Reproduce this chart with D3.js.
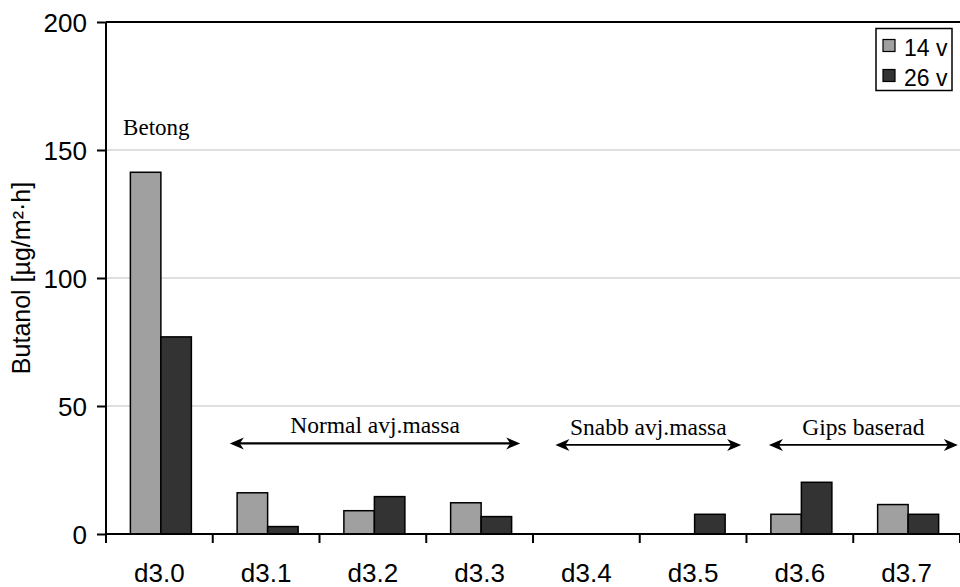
<!DOCTYPE html>
<html>
<head>
<meta charset="utf-8">
<script src="https://cdn.jsdelivr.net/npm/d3@7"></script>
<style>
  html, body { margin: 0; padding: 0; background: #fff; }
  svg { display: block; }
</style>
</head>
<body>
<svg id="chart" width="960" height="587"></svg>
<script>
// ---- data ----
const categories = ["d3.0", "d3.1", "d3.2", "d3.3", "d3.4", "d3.5", "d3.6", "d3.7"];
const seriesNames = ["14 v", "26 v"];
const values14 = [141.3, 16.1, 9.1, 12.2, null, null, 7.7, 11.5];
const values26 = [77.0, 2.9, 14.6, 6.8, null, 7.7, 20.2, 7.7];
const yTicks = [0, 50, 100, 150, 200];
const yLabel = "Butanol [µg/m²·h]";
// group annotations: label, span in category units, value level
const groupLabels = ["Normal avj.massa", "Snabb avj.massa", "Gips baserad"];
const groupFrom = [1.16, 4.21, 6.21];
const groupTo = [3.88, 5.95, 7.98];
const groupLevel = [35.4, 34.8, 34.8];
const betongLabel = "Betong";

(function () {
// ---- layout ----
const svg = d3.select("#chart");
const mLeft = 106, mRight = 960, mTop = 22, mBottom = 534;
const colors = ["#a0a0a0", "#333333"];
const sans = "Liberation Sans, Arial, sans-serif";
const serif = "Liberation Serif, Times New Roman, serif";

const x = d3.scaleBand().domain(categories).range([mLeft, mRight]).paddingInner(0).paddingOuter(0);
const xc = d3.scaleLinear().domain([0, categories.length]).range([mLeft, mRight]);
const x1 = d3.scaleBand().domain(seriesNames).range([0, x.bandwidth()]).paddingInner(0).paddingOuter(0.75);
const y = d3.scaleLinear().domain([0, 200]).range([mBottom, mTop]);

// gridlines
svg.append("g").selectAll("line").data(yTicks.filter(t => t > 0 && t < 200)).join("line")
  .attr("x1", mLeft).attr("x2", mRight)
  .attr("y1", d => y(d)).attr("y2", d => y(d))
  .attr("stroke", "#c0c0c0").attr("stroke-width", 1.2);

// top border
svg.append("line").attr("x1", mLeft).attr("x2", mRight).attr("y1", y(200)).attr("y2", y(200))
  .attr("stroke", "#000").attr("stroke-width", 2);

// bars
const data = categories.map((c, i) => ({ c, vals: [values14[i], values26[i]] }));
const groups = svg.append("g").selectAll("g").data(data).join("g")
  .attr("transform", d => `translate(${x(d.c) + 1.5},0)`);
groups.selectAll("rect")
  .data(d => d.vals.map((v, j) => ({ v, s: seriesNames[j], j })).filter(e => e.v != null))
  .join("rect")
  .attr("x", e => x1(e.s))
  .attr("width", x1.bandwidth())
  .attr("y", e => y(e.v))
  .attr("height", e => y(0) - y(e.v))
  .attr("fill", e => colors[e.j])
  .attr("stroke", "#000").attr("stroke-width", 1.5);

// y axis
const yAxis = d3.axisLeft(y).tickValues(yTicks).tickSize(9).tickPadding(10).tickFormat(d3.format("d"));
const gy = svg.append("g").attr("transform", `translate(${mLeft},0)`).call(yAxis);
gy.select(".domain").attr("stroke-width", 2).attr("d", `M0,${mTop}V${mBottom}`);
gy.selectAll(".tick line").attr("stroke-width", 2);
gy.selectAll(".tick text").attr("font-family", sans)
  .attr("font-size", 26).attr("fill", "#000").attr("dy", "0.36em");

// x axis
const gx = svg.append("g").attr("transform", `translate(0,${mBottom})`);
gx.append("line").attr("x1", mLeft).attr("x2", mRight).attr("stroke", "#000").attr("stroke-width", 2);
gx.selectAll("line.tk").data(d3.range(0, categories.length + 1)).join("line").attr("class", "tk")
  .attr("x1", d => xc(d)).attr("x2", d => xc(d)).attr("y1", 0).attr("y2", 9)
  .attr("stroke", "#000").attr("stroke-width", 2);
gx.selectAll("text").data(categories).join("text")
  .attr("x", d => x(d) + x.bandwidth() / 2).attr("y", 48)
  .attr("text-anchor", "middle")
  .attr("font-family", sans).attr("font-size", 26)
  .text(d => d);

// y label
svg.append("text")
  .attr("transform", `translate(30,${(mTop + mBottom) / 2}) rotate(-90)`)
  .attr("text-anchor", "middle")
  .attr("font-family", sans).attr("font-size", 25)
  .text(yLabel);

// Betong label
svg.append("text").attr("x", xc(0.16)).attr("y", y(156))
  .attr("font-family", serif).attr("font-size", 23)
  .text(betongLabel);

// group annotations with double arrows
function arrowHead(xTip, yy, dir) {
  const L = 14, H = 6, notch = 4;
  return `M${xTip},${yy} L${xTip - dir * L},${yy - H} L${xTip - dir * (L - notch)},${yy} L${xTip - dir * L},${yy + H} Z`;
}
groupLabels.forEach((lab, i) => {
  const x0 = xc(groupFrom[i]), x2 = xc(groupTo[i]), yy = y(groupLevel[i]);
  const sw = i === 0 ? 2.2 : 1.8;
  svg.append("line").attr("x1", x0 + 6).attr("x2", x2 - 6).attr("y1", yy).attr("y2", yy)
    .attr("stroke", "#000").attr("stroke-width", sw);
  svg.append("path").attr("d", arrowHead(x0, yy, -1)).attr("fill", "#000");
  svg.append("path").attr("d", arrowHead(x2, yy, 1)).attr("fill", "#000");
  svg.append("text").attr("x", (x0 + x2) / 2).attr("y", yy - 10)
    .attr("text-anchor", "middle")
    .attr("font-family", serif).attr("font-size", 23.5)
    .text(lab);
});

// legend
const lg = svg.append("g");
lg.append("rect").attr("x", 876).attr("y", 28.5).attr("width", 76).attr("height", 62)
  .attr("fill", "#fff").attr("stroke", "#000").attr("stroke-width", 1.5);
seriesNames.forEach((s, i) => {
  lg.append("rect").attr("x", 883).attr("y", 39.5 + i * 30).attr("width", 12).attr("height", 12)
    .attr("fill", colors[i]).attr("stroke", "#000").attr("stroke-width", 1.2);
  lg.append("text").attr("x", 904).attr("y", 56 + i * 30)
    .attr("font-family", sans).attr("font-size", 23)
    .text(s);
});
})();
</script>
</body>
</html>
